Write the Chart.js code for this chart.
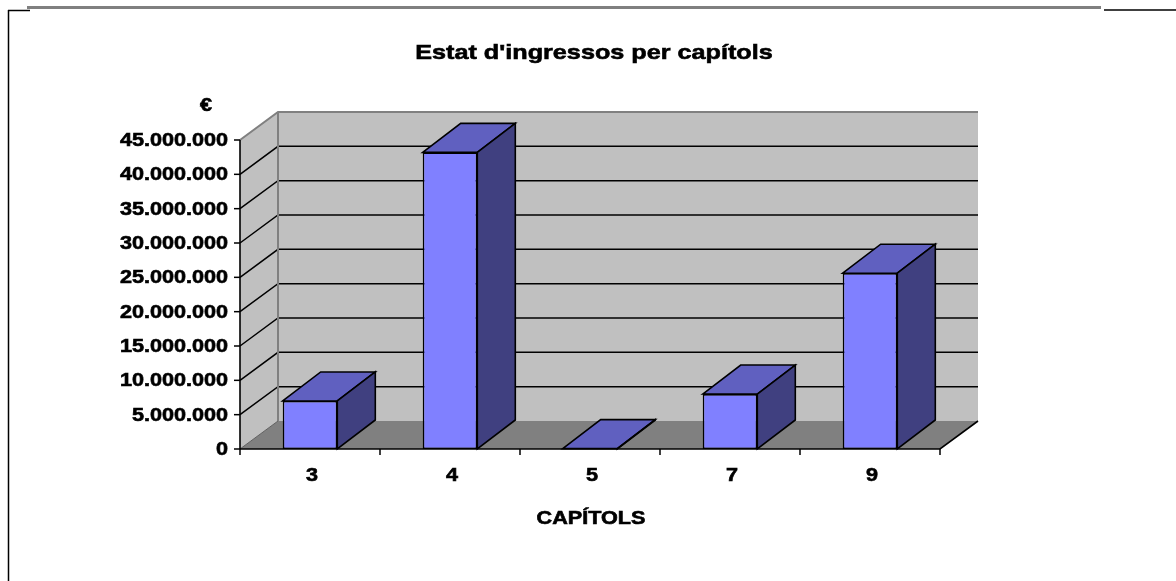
<!DOCTYPE html>
<html>
<head>
<meta charset="utf-8">
<script src="https://cdn.jsdelivr.net/npm/chart.js@4.4.1/dist/chart.umd.min.js"></script>
<style>
  body { margin: 0; background: #fff; }
  #wrap { width: 1176px; height: 581px; }
</style>
</head>
<body>
<div id="wrap"><canvas id="chart" width="1176" height="581"></canvas></div>
<script>
const capitols = ['3', '4', '5', '7', '9'];
const ingressos = [7000000, 43200000, 50000, 8000000, 25600000];
const yTicks = [0, 5000000, 10000000, 15000000, 20000000, 25000000, 30000000, 35000000, 40000000, 45000000];
const titol = "Estat d'ingressos per capítols";
const unitat = '€';
const titolEixX = 'CAPÍTOLS';

// depth of the fake 3d walls and bars
const DX = 38, DY = -28;
const BDX = 38, BDY = -29;
// the original picture is stretched sideways
const STRETCH = 1.2;
const FONT = '"Liberation Sans", Arial, sans-serif';

function fmt(v) {
  return String(v).replace(/\B(?=(\d{3})+(?!\d))/g, '.');
}

function poly(ctx, pts, fill, stroke, lw) {
  ctx.beginPath();
  ctx.moveTo(pts[0][0], pts[0][1]);
  for (let i = 1; i < pts.length; i++) ctx.lineTo(pts[i][0], pts[i][1]);
  ctx.closePath();
  if (fill) { ctx.fillStyle = fill; ctx.fill(); }
  if (stroke) { ctx.strokeStyle = stroke; ctx.lineWidth = lw || 1; ctx.stroke(); }
}

function line(ctx, pts, color, lw) {
  ctx.beginPath();
  ctx.moveTo(pts[0][0], pts[0][1]);
  for (let i = 1; i < pts.length; i++) ctx.lineTo(pts[i][0], pts[i][1]);
  ctx.strokeStyle = color;
  ctx.lineWidth = lw || 1;
  ctx.stroke();
}

function stretchText(ctx, text, x, y, align, font, base) {
  ctx.save();
  ctx.font = font;
  ctx.fillStyle = '#000';
  ctx.strokeStyle = '#000';
  ctx.lineWidth = 0.6;
  ctx.textAlign = align;
  ctx.textBaseline = base || 'alphabetic';
  ctx.translate(x, y);
  ctx.scale(STRETCH, 1);
  ctx.fillText(text, 0, 0);
  ctx.strokeText(text, 0, 0);
  ctx.restore();
}

const pageDecor = {
  id: 'pageDecor',
  beforeDraw(chart) {
    const ctx = chart.ctx;
    ctx.save();
    ctx.fillStyle = '#fff';
    ctx.fillRect(0, 0, chart.width, chart.height);
    ctx.fillStyle = '#808080';
    ctx.fillRect(27, 6, 1074, 3);
    line(ctx, [[8, 10.5], [30, 10.5]], '#000', 1.5);
    line(ctx, [[1104, 10], [1176, 10]], '#000', 1.5);
    line(ctx, [[8.5, 10], [8.5, 581]], '#000', 1.5);
    ctx.restore();
  }
};

const walls3d = {
  id: 'walls3d',
  beforeDatasetsDraw(chart) {
    const { ctx, chartArea: a, scales: { x, y } } = chart;
    const L = a.left, R = a.right;
    const T = y.getPixelForValue(yTicks[yTicks.length - 1]);
    const B = y.getPixelForValue(0);
    ctx.save();
    // back wall, side wall, floor
    ctx.fillStyle = '#c0c0c0';
    ctx.fillRect(L + DX, T + DY, R - L, B - T);
    poly(ctx, [[L, T], [L + DX, T + DY], [L + DX, B + DY], [L, B]], '#c0c0c0');
    poly(ctx, [[L, B], [L + DX, B + DY], [R + DX, B + DY], [R, B]], '#808080');

    // gridlines
    yTicks.slice(1, -1).forEach(v => {
      const py = y.getPixelForValue(v);
      line(ctx, [[L, py], [L + DX, py + DY], [R + DX, py + DY]], '#000', 1.5);
    });

    // wall edges
    line(ctx, [[L, T], [L + DX, T + DY], [R + DX, T + DY]], '#808080', 2);
    line(ctx, [[L + DX, T + DY], [L + DX, B + DY]], '#808080', 2);
    line(ctx, [[L, B], [L + DX, B + DY]], '#606060', 1);

    // axes
    line(ctx, [[L, T], [L, B]], '#000', 1.6);
    line(ctx, [[L, B], [R, B], [R + DX, B + DY]], '#000', 1.6);

    yTicks.forEach(v => {
      const py = y.getPixelForValue(v);
      line(ctx, [[L - 6, py], [L, py]], '#000', 1.5);
    });
    const step = (R - L) / capitols.length;
    for (let i = 0; i <= capitols.length; i++) {
      const px = L + i * step;
      line(ctx, [[px, B], [px, B + 6]], '#000', 1.5);
    }
    ctx.restore();
  },
  afterDatasetsDraw(chart) {
    const ctx = chart.ctx;
    const meta = chart.getDatasetMeta(0);
    ctx.save();
    ctx.lineJoin = 'miter';
    meta.data.forEach(bar => {
      const p = bar.getProps(['x', 'y', 'base', 'width'], true);
      const l = p.x - p.width / 2, r = p.x + p.width / 2;
      poly(ctx, [[l, p.y], [l + BDX, p.y + BDY], [r + BDX, p.y + BDY], [r, p.y]], '#6060c0', '#000', 1.6);
      poly(ctx, [[r, p.y], [r + BDX, p.y + BDY], [r + BDX, p.base + BDY], [r, p.base]], '#404080', '#000', 1.6);
    });
    ctx.restore();
  }
};

const texts = {
  id: 'texts',
  afterDraw(chart) {
    const { ctx, scales: { x, y } } = chart;
    stretchText(ctx, titol, 594, 59, 'center', 'bold 21px ' + FONT);
    stretchText(ctx, unitat, 206, 111, 'center', 'bold 18px ' + FONT);
    yTicks.forEach(v => {
      stretchText(ctx, fmt(v), 228, y.getPixelForValue(v) + 1, 'right', 'bold 18px ' + FONT, 'middle');
    });
    capitols.forEach((c, i) => {
      stretchText(ctx, c, x.getPixelForValue(i) + 2, 481, 'center', 'bold 18px ' + FONT);
    });
    stretchText(ctx, titolEixX, 591, 524, 'center', 'bold 18px ' + FONT);
  }
};

const chart = new Chart(document.getElementById('chart'), {
  type: 'bar',
  data: {
    labels: capitols,
    datasets: [{
      label: 'Ingressos',
      data: ingressos,
      backgroundColor: '#8080ff',
      borderColor: '#000',
      borderWidth: 1.6,
      borderSkipped: false,
      categoryPercentage: 1,
      barPercentage: 0.39
    }]
  },
  options: {
    responsive: false,
    animation: false,
    layout: {
      padding: { left: 240, right: 236, top: 140, bottom: 132 }
    },
    plugins: {
      legend: { display: false },
      tooltip: { enabled: false },
      title: { display: false }
    },
    scales: {
      x: { display: false },
      y: { display: false, min: 0, max: 45000000 }
    }
  },
  plugins: [pageDecor, walls3d, texts]
});
</script>
</body>
</html>
